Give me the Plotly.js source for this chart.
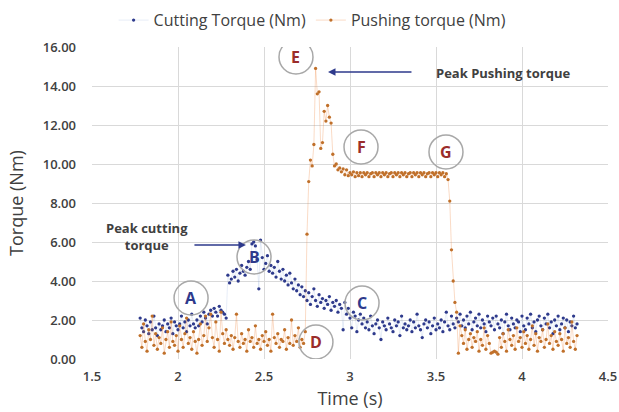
<!DOCTYPE html>
<html>
<head>
<meta charset="utf-8">
<script src="https://cdn.plot.ly/plotly-3.0.1.min.js"></script>
<style>html,body{margin:0;padding:0;background:#fff;}#chart{width:619px;height:412px;}</style>
</head>
<body>
<div id="chart"></div>
<script>
// Sampling: one reading every 0.01 s starting at 1.78 s
const startTime = 1.78;
const sampleStep = 0.01;

const cuttingTorque = [
  2.1,1.6,1.4,2.0,1.7,1.3,1.9,1.5,2.2,1.6,1.2,1.8,1.5,
  1.7,2.0,1.4,1.8,1.6,2.1,1.3,1.9,1.7,1.5,
  1.8,2.2,1.6,1.9,1.4,2.0,1.7,2.3,1.8,1.6,
  2.0,1.7,2.2,1.9,2.4,2.1,1.8,2.3,2.5,2.2,
  2.6,2.4,2.2,2.7,2.5,2.4,2.3,2.1,
  4.3,3.9,4.1,4.5,4.2,4.6,4.0,4.4,4.8,4.5,4.3,4.7,5.0,4.6,5.9,6.0,5.8,
  5.1,3.6,6.1,5.2,4.6,4.9,5.3,4.5,4.8,4.4,4.7,4.2,5.0,4.5,4.1,
  4.6,4.0,4.3,3.8,4.4,3.9,3.6,4.1,3.5,3.8,3.3,3.7,3.2,3.5,3.0,
  3.4,2.8,3.2,3.6,3.0,2.7,3.3,2.9,3.1,2.6,3.0,2.8,3.2,2.5,2.9,
  2.7,3.0,2.4,2.8,2.6,1.5,2.9,2.3,2.6,2.1,1.6,2.4,2.2,1.4,2.0,
  2.3,1.8,2.1,1.6,1.9,1.5,2.2,1.7,1.3,1.8,2.0,1.6,1.0,1.9,1.7,
  1.5,2.1,1.8,1.6,1.4,2.0,1.7,1.9,1.2,2.2,1.6,1.8,1.5,1.7,2.0,
  1.4,1.9,1.6,2.3,1.7,1.5,1.1,1.8,2.0,1.6,1.9,1.3,1.7,2.1,1.5,
  1.8,1.6,2.0,1.4,1.9,2.4,1.7,1.5,2.2,1.8,1.6,2.1,1.9,2.3,1.7,
  2.0,1.6,2.2,1.8,2.4,1.5,1.9,2.1,1.7,2.3,1.6,2.0,1.8,1.4,2.2,
  1.9,1.7,2.1,1.5,2.2,1.8,1.6,2.0,1.3,1.9,2.3,1.7,1.5,2.1,1.8,
  1.6,2.0,1.9,1.4,2.2,1.7,1.5,2.1,1.8,2.3,1.6,1.9,1.4,2.0,2.2,
  1.7,1.5,2.1,1.8,2.3,1.6,1.9,1.3,2.0,1.7,2.2,1.5,1.8,2.1,1.6,
  2.0,1.4,1.9,1.7,2.2,1.6,1.8
];

const pushingTorque = [
  1.2,0.6,1.8,0.9,0.4,1.5,1.0,2.2,0.7,1.3,
  0.5,1.1,0.8,1.6,0.3,1.0,1.4,0.6,1.9,0.9,
  0.7,1.2,0.4,1.7,1.0,0.6,1.3,2.1,0.8,1.1,
  0.5,1.4,0.9,0.3,1.0,1.8,0.7,1.2,2.2,0.9,
  1.6,2.3,1.1,0.6,1.9,1.0,0.4,2.4,1.3,0.8,
  1.5,1.0,0.7,1.2,0.5,1.1,2.3,0.9,0.6,1.3,
  0.8,1.0,0.4,1.5,0.9,1.1,0.6,1.7,0.8,1.0,
  0.5,1.2,0.9,1.4,0.7,1.0,0.4,2.3,1.1,0.8,
  1.3,0.6,1.0,0.9,1.5,0.5,1.1,0.8,2.0,0.7,
  1.2,0.9,1.6,0.6,1.0,0.8,1.4,
  6.4,9.1,10.2,9.9,11.0,14.9,13.6,13.7,10.8,11.1,12.7,12.2,13.0,12.4,12.1,10.5,9.9,10.0,9.7,9.8,
  9.6,9.75,9.45,9.7,9.4,9.55,9.45,9.6,9.35,9.55,
  9.4,9.55,9.35,9.55,9.45,9.55,9.35,9.5,9.55,9.35,
  9.55,9.45,9.55,9.35,9.55,9.45,9.55,9.35,9.5,9.55,
  9.35,9.55,9.45,9.55,9.35,9.55,9.45,9.55,9.35,9.5,
  9.55,9.35,9.55,9.45,9.55,9.35,9.55,9.45,9.55,9.35,
  9.5,9.55,9.35,9.55,9.45,9.55,9.35,9.55,9.45,9.55,
  9.35,9.5,
  9.2,8.1,5.6,4.0,2.9,2.4,
  0.3,1.7,1.2,0.8,1.5,0.5,1.0,1.3,0.6,1.1,
  0.9,1.4,0.4,1.0,0.7,1.6,0.5,1.2,0.8,0.3,
  0.35,0.4,0.35,0.25,1.1,0.6,1.3,0.9,0.4,1.5,
  1.0,0.7,1.2,0.5,1.6,0.9,1.1,0.6,1.4,0.8,
  1.2,0.5,1.0,1.7,0.7,1.3,0.4,1.1,0.9,1.5,
  0.6,1.0,1.8,0.8,1.2,0.5,1.4,0.9,0.7,1.3,
  1.0,0.4,1.6,0.8,1.1,0.6,1.9,0.9,0.5,1.2
];

const seriesNames = ['Cutting Torque (Nm)', 'Pushing torque (Nm)'];
const xTickVals = [1.5, 2, 2.5, 3, 3.5, 4, 4.5];
const yTickVals = [0, 2, 4, 6, 8, 10, 12, 14, 16];

const markerLabels = ['A','B','C','D','E','F','G'];
const markerLabelX = [2.076, 2.442, 3.070, 2.802, 2.686, 3.064, 3.558];
const markerLabelY = [3.13, 5.23, 2.87, 0.87, 15.49, 10.87, 10.62];

const timeOf = n => Array.from({length: n}, (_, i) => Math.round((startTime + i * sampleStep) * 1000) / 1000);
const tCut = timeOf(cuttingTorque.length);
const tPush = timeOf(pushingTorque.length);

const navy = '#2e3a8c';
const brick = '#9b2d2a';
const fontFam = '"Open Sans", "Liberation Sans", Arial, sans-serif';

const traces = [
  {
    x: tCut, y: cuttingTorque, name: seriesNames[0], type: 'scatter', mode: 'lines+markers',
    line: {color: 'rgba(68,114,196,0.22)', width: 0.6},
    marker: {color: navy, size: 3.3}
  },
  {
    x: tPush, y: pushingTorque, name: seriesNames[1], type: 'scatter', mode: 'lines+markers',
    line: {color: 'rgba(237,125,49,0.35)', width: 0.8},
    marker: {color: '#c0702a', size: 3.3}
  }
];

const shapes = markerLabels.map((l, i) => ({
  type: 'circle', xref: 'x', yref: 'y', xsizemode: 'pixel', ysizemode: 'pixel',
  xanchor: markerLabelX[i], yanchor: markerLabelY[i],
  x0: -17, x1: 17, y0: -17, y1: 17,
  line: {color: '#a8a8a8', width: 1.5}
}));

const annotations = markerLabels.map((l, i) => ({
  x: markerLabelX[i], y: markerLabelY[i], xref: 'x', yref: 'y', text: '<b>' + l + '</b>',
  showarrow: false, font: {family: fontFam, size: 16, color: i < 3 ? navy : brick}
}));

annotations.push(
  {x: 2.395, y: 5.85, xref: 'x', yref: 'y', ax: -53, ay: 0, text: '', showarrow: true,
   arrowhead: 2, arrowsize: 1, arrowwidth: 1.5, arrowcolor: navy},
  {x: 2.872, y: 14.72, xref: 'x', yref: 'y', ax: 85, ay: 0, text: '', showarrow: true,
   arrowhead: 2, arrowsize: 1, arrowwidth: 1.5, arrowcolor: navy},
  {x: 1.820, y: 6.3, xref: 'x', yref: 'y', text: '<b>Peak cutting<br>torque</b>', showarrow: false,
   align: 'center', font: {family: fontFam, size: 13, color: '#404040'}},
  {x: 3.488, y: 14.67, xref: 'x', yref: 'y', xanchor: 'left', text: '<b>Peak Pushing torque</b>', showarrow: false,
   font: {family: fontFam, size: 13, color: '#404040'}}
);

const layout = {
  width: 619, height: 412,
  margin: {l: 92, r: 11, t: 47, b: 53},
  paper_bgcolor: '#ffffff', plot_bgcolor: '#ffffff',
  font: {family: fontFam, color: '#404040'},
  showlegend: true,
  legend: {orientation: 'h', xref: 'container', yref: 'container', x: 0.505, xanchor: 'center',
           y: 0.951, yanchor: 'middle',
           font: {family: fontFam, size: 16, color: '#404040'}, itemwidth: 30, tracegroupgap: 0},
  xaxis: {
    range: [1.5, 4.5], tickvals: xTickVals, ticktext: xTickVals.map(String),
    showgrid: true, gridcolor: '#d9d9d9', gridwidth: 1, zeroline: false, showline: false,
    ticks: '', ticklabelstandoff: 8, automargin: false,
    tickfont: {family: fontFam, size: 13, color: '#404040', weight: 600},
    title: {text: 'Time (s)', font: {family: fontFam, size: 18, color: '#404040'}, standoff: 8}
  },
  yaxis: {
    range: [0, 16], tickvals: yTickVals, tickformat: '.2f',
    showgrid: true, gridcolor: '#d9d9d9', gridwidth: 1, zeroline: false, showline: false,
    ticks: '', ticklabelstandoff: 15, automargin: false,
    tickfont: {family: fontFam, size: 13, color: '#404040', weight: 600},
    title: {text: 'Torque (Nm)', font: {family: fontFam, size: 18, color: '#404040'}, standoff: 14}
  },
  shapes: shapes,
  annotations: annotations
};

Plotly.newPlot('chart', traces, layout, {displayModeBar: false, staticPlot: true});
</script>
</body>
</html>
